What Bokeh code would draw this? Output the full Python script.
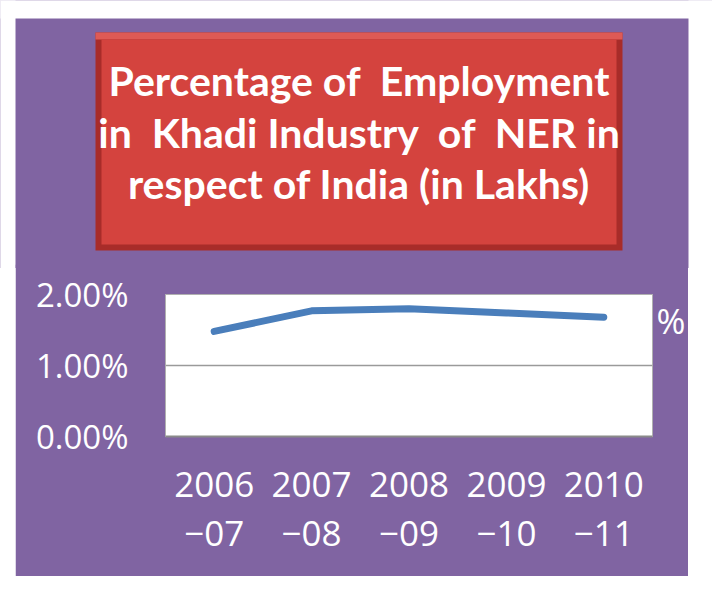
from bokeh.plotting import figure
from bokeh.models import Range1d, LinearAxis, FixedTicker, NumeralTickFormatter
from bokeh.core.properties import value
from bokeh.embed import file_html
from bokeh.resources import INLINE

# ---- data ----
years = ["2006-07", "2007-08", "2008-09", "2009-10", "2010-11"]
share = [0.0148, 0.0177, 0.0180, 0.0174, 0.0168]   # NER share of India's Khadi employment
y_ticks = [0.0, 0.01, 0.02]
title_lines = ["Percentage of\u00a0 Employment",
               "in\u00a0 Khadi Industry\u00a0 of\u00a0 NER in",
               "respect of India (in Lakhs)"]
stray_tick = {0.0163: "%"}

PURPLE = "#8064a2"

# ---- title panel (page-pixel coordinates) ----
TW, TH = 712, 268
top = figure(width=TW, height=TH, output_backend="svg", toolbar_location=None,
             x_range=Range1d(0, TW), y_range=Range1d(TH, 0),
             min_border=0, outline_line_color=None,
             background_fill_color=PURPLE, border_fill_color=PURPLE)
top.axis.visible = False
top.grid.visible = False
# white page surround
top.quad(left=[-10, -10, 688], right=[15, TW + 10, TW + 10], top=[-10, -10, -10],
         bottom=[TH + 20, 18, TH + 20], fill_color="white", line_color=None)
top.quad(left=[95], right=[622], top=[32], bottom=[250], fill_color="#a82c29", line_color=None)
top.quad(left=[95], right=[622], top=[32], bottom=[39], fill_color="#de5a55", line_color=None)
top.quad(left=[101], right=[616], top=[39], bottom=[244], fill_color="#d4433e", line_color=None)
top.text(x=[358.5] * 3, y=[80, 132, 183], text=title_lines,
         text_font=value("Lato"), text_font_style="bold", text_font_size="41px",
         text_color="white", text_align="center", text_baseline="alphabetic")

# ---- chart panel ----
x = [i + 1 for i in range(len(years))]
first = {i + 1: y.split("-")[0] for i, y in enumerate(years)}
second = {i + 1: "\u2212" + y.split("-")[1] for i, y in enumerate(years)}

p = figure(width=673, height=312, output_backend="svg", toolbar_location=None,
           x_range=Range1d(0.5, 5.5), y_range=Range1d(0, 0.02),
           x_axis_location=None,
           min_border_left=150, min_border_right=35, min_border_top=30, min_border_bottom=140,
           background_fill_color="white", border_fill_color=PURPLE,
           outline_line_color="#b0b0b0", outline_line_width=1,
           styles={"margin-left": "15px", "margin-top": "-4px"})

p.xgrid.visible = False
p.ygrid.ticker = FixedTicker(ticks=[0.01])
p.ygrid.grid_line_color = "#9a9a9a"
p.ygrid.grid_line_width = 1.5

ya = p.yaxis[0]
ya.ticker = FixedTicker(ticks=y_ticks)
ya.formatter = NumeralTickFormatter(format="0.00%")
ya.axis_line_color = None
ya.major_tick_line_color = None
ya.minor_tick_line_color = None
ya.major_tick_out = 0
ya.major_label_standoff = 37
ya.major_label_text_color = "white"
ya.major_label_text_font = "Open Sans"
ya.major_label_text_font_size = "33px"

ra = LinearAxis(ticker=FixedTicker(ticks=list(stray_tick)), major_label_overrides=stray_tick)
ra.axis_line_color = None
ra.major_tick_line_color = None
ra.minor_tick_line_color = None
ra.major_tick_out = 0
ra.major_tick_in = 0
ra.major_label_standoff = 4
ra.major_label_text_color = "white"
ra.major_label_text_font = "Open Sans"
ra.major_label_text_font_size = "35px"
p.add_layout(ra, "right")

for labels, standoff, line in ((first, 35, "#8a8a8a"), (second, 21, None)):
    ax = LinearAxis(ticker=FixedTicker(ticks=x), major_label_overrides=labels)
    ax.axis_line_color = line
    ax.axis_line_width = 2
    ax.major_tick_line_color = None
    ax.minor_tick_line_color = None
    ax.major_tick_out = 0
    ax.major_tick_in = 0
    ax.major_label_standoff = standoff
    ax.major_label_text_color = "white"
    ax.major_label_text_font = "Open Sans"
    ax.major_label_text_font_size = "35px"
    p.add_layout(ax, "below")

p.line(x=x, y=share, line_color="#4a7ebb", line_width=7, line_cap="round")

open("out.html", "w").write(file_html([top, p], INLINE))
